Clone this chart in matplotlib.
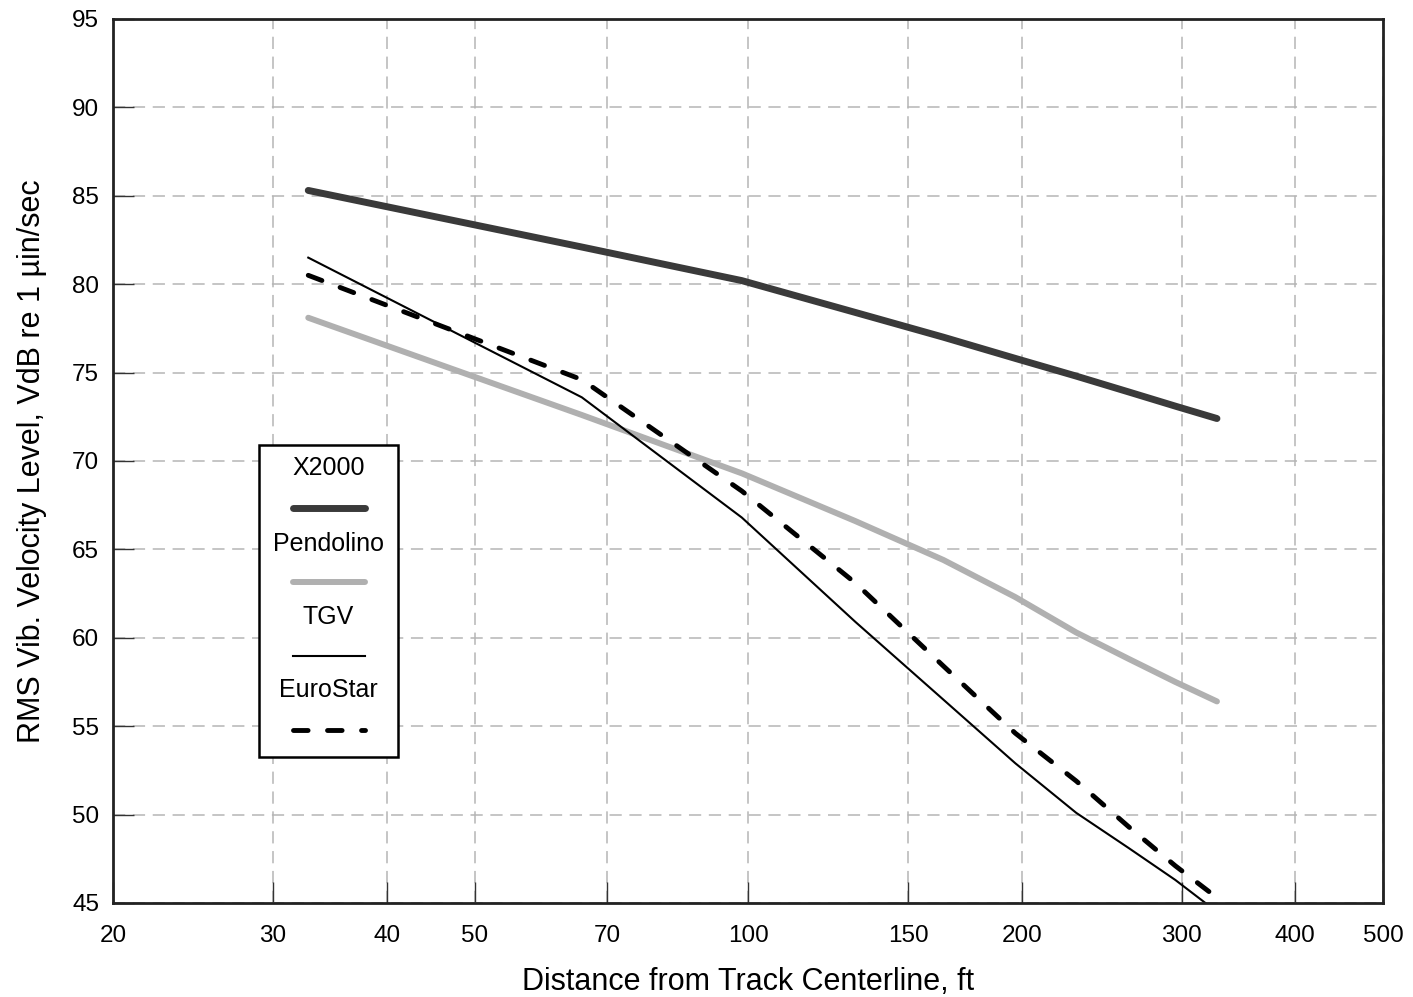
import matplotlib
matplotlib.use("Agg")
import matplotlib.pyplot as plt
from matplotlib.patches import Rectangle
from matplotlib.lines import Line2D

plt.rcParams['font.family'] = ['Liberation Sans', 'DejaVu Sans']

# distance from track centerline, ft (10 m steps)
distance_ft = [32.8, 65.6, 98.4, 131.2, 164.0, 196.8, 229.6, 262.4, 295.2, 328.0]

x2000 = [85.3, 82.1, 80.2, 78.4, 77.0, 75.8, 74.8, 73.9, 73.1, 72.4]
pendolino = [78.1, 72.6, 69.3, 66.6, 64.4, 62.3, 60.3, 58.8, 57.5, 56.4]
tgv = [81.5, 73.6, 66.8, 60.9, 56.5, 52.9, 50.1, 48.1, 46.3, 44.5]
eurostar = [80.5, 74.6, 68.3, 63.1, 58.4, 54.6, 51.9, 49.3, 47.1, 45.3]

names = ["X2000", "Pendolino", "TGV", "EuroStar"]

xticks = [20, 30, 40, 50, 70, 100, 150, 200, 300, 400, 500]
yticks = [45, 50, 55, 60, 65, 70, 75, 80, 85, 90, 95]

fig = plt.figure(figsize=(14.13, 9.97), dpi=100)
ax = fig.add_axes([0.080, 0.0943, 0.899, 0.8867])

styles = [
    dict(color='#3a3a3a', lw=5.0, solid_capstyle='round'),
    dict(color='#b0b0b0', lw=4.3, solid_capstyle='round'),
    dict(color='black', lw=1.5),
    dict(color='black', lw=3.5, dashes=(3, 4), dash_capstyle='round'),
]

for ys, st in zip([x2000, pendolino, tgv, eurostar], styles):
    ax.plot(distance_ft, ys, **st)

ax.set_xscale('log')
ax.set_xlim(20, 500)
ax.set_ylim(45, 95)
ax.set_xticks(xticks)
ax.set_xticklabels([str(t) for t in xticks])
ax.xaxis.set_minor_locator(matplotlib.ticker.NullLocator())
ax.set_yticks(yticks)
ax.tick_params(direction='in', length=15, width=1, color='#333333',
               labelsize=17.5, pad=10)
ax.tick_params(axis='x', pad=16)
ax.grid(True, color='#b5b5b5', linestyle=(0, (8, 5)), linewidth=1.1)
for sp in ax.spines.values():
    sp.set_linewidth(2)
    sp.set_color('#222222')

ax.set_xlabel("Distance from Track Centerline, ft", fontsize=22, labelpad=14)
ax.set_ylabel("RMS Vib. Velocity Level, VdB re 1 µin/sec", fontsize=22, labelpad=18)

# legend box: label above each line sample
ax.add_patch(Rectangle((0.115, 0.165), 0.1094, 0.353, transform=ax.transAxes,
                       facecolor='white', edgecolor='black', lw=1.8, zorder=5))
text_y = [0.492, 0.406, 0.3235, 0.241]
line_y = [0.447, 0.363, 0.279, 0.196]
for name, ty, ly, st in zip(names, text_y, line_y, styles):
    ax.text(0.1695, ty, name, transform=ax.transAxes, ha='center', va='center',
            fontsize=18, zorder=6)
    ax.add_line(Line2D([0.142, 0.198], [ly, ly], transform=ax.transAxes,
                       zorder=6, **st))

fig.savefig("out.png", dpi=100)
